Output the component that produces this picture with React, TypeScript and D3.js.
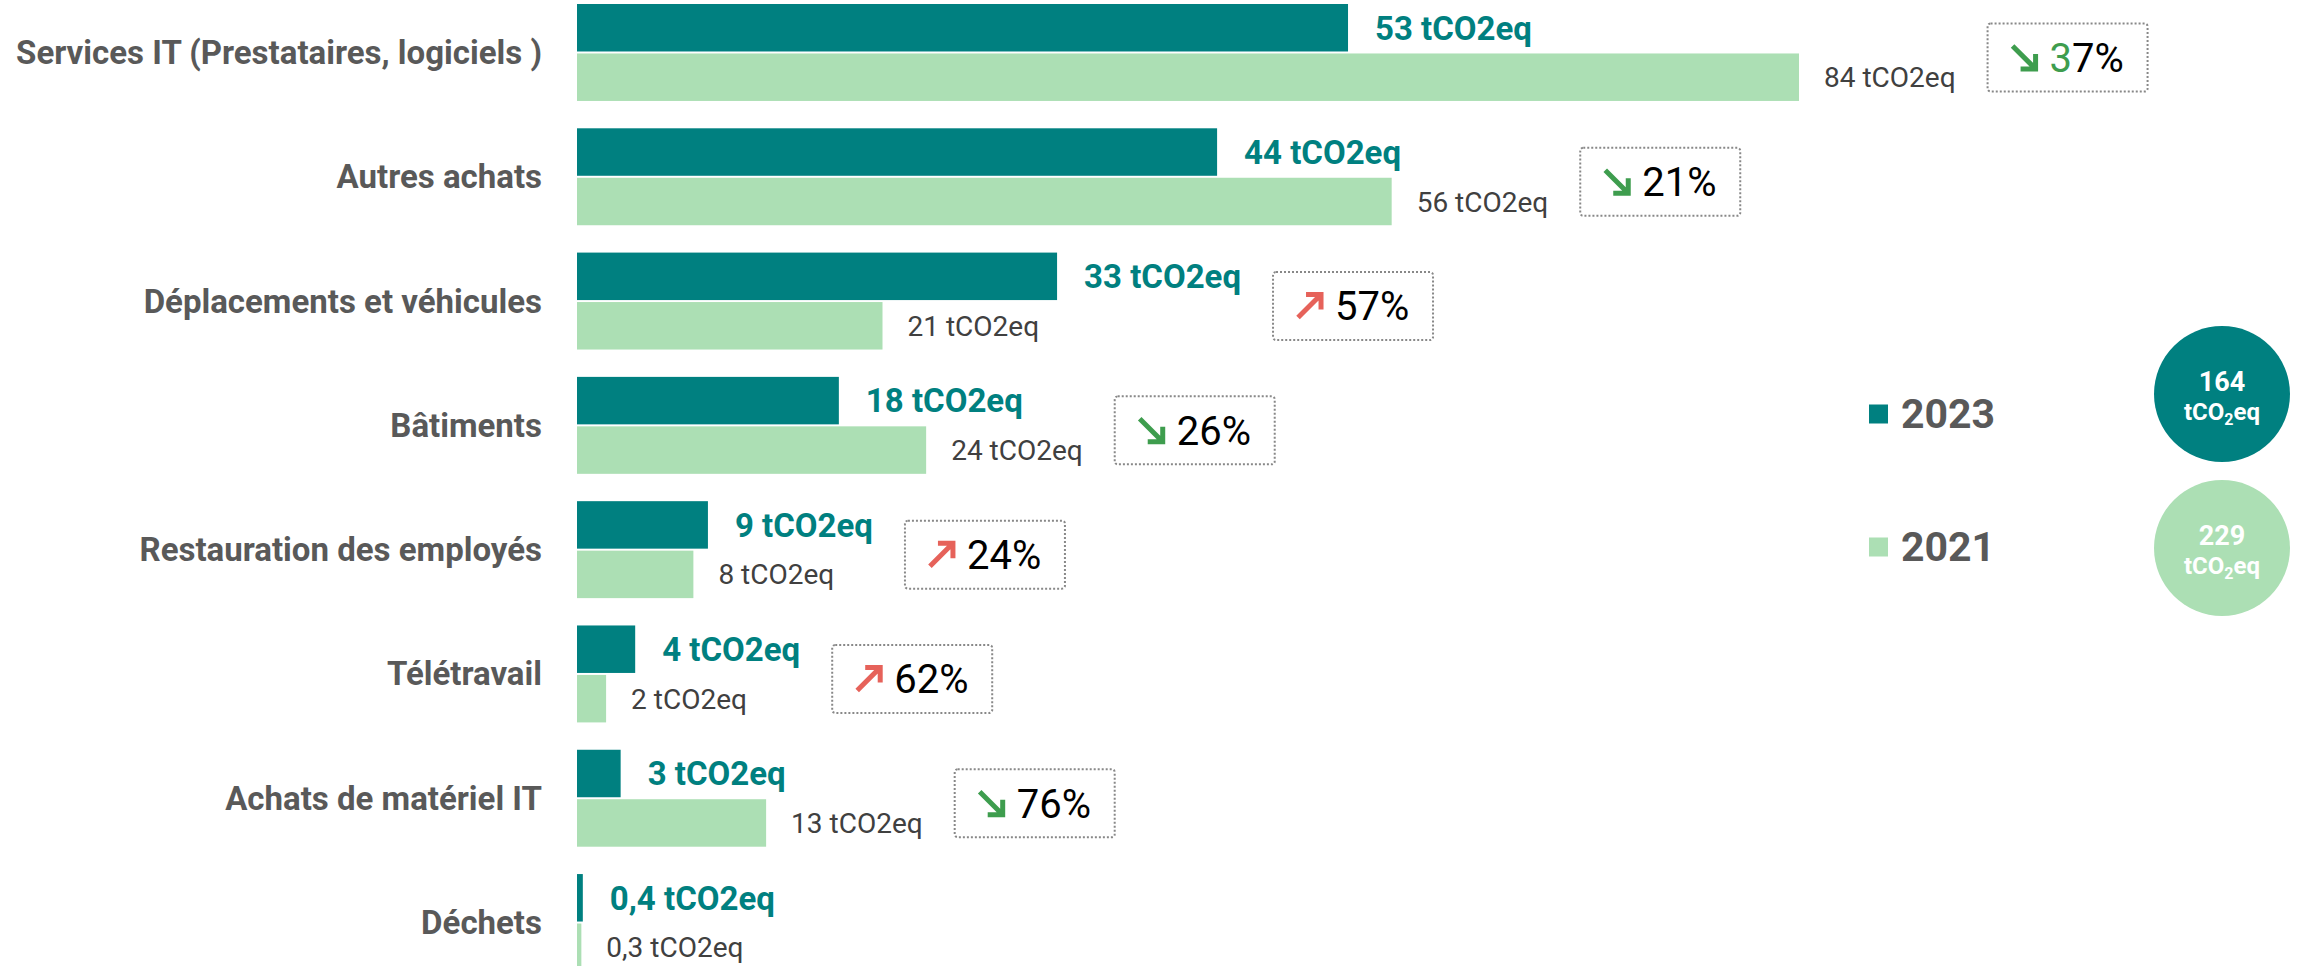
import React, { useRef, useEffect } from 'react';
import * as d3 from 'd3';

// Emissions par poste, 2023 vs 2021 (tCO2eq)
const categories = [
  'Services IT (Prestataires, logiciels )',
  'Autres achats',
  'Déplacements et véhicules',
  'Bâtiments',
  'Restauration des employés',
  'Télétravail',
  'Achats de matériel IT',
  'Déchets',
];
const values2023 = [53, 44, 33, 18, 9, 4, 3, 0.4];
const values2021 = [84, 56, 21, 24, 8, 2, 13, 0.3];
const changes = [-37, -21, 57, -26, 24, 62, -76, null];
const years = ['2023', '2021'];
const totals = [164, 229];

const TEAL = '#008080';
const LIGHT = '#acdfb4';
const GREEN = '#3e9d4e';
const RED = '#e6625a';

const fmt = (v: number) => String(v).replace('.', ',') + ' tCO2eq';

export default function App() {
  const svgRef = useRef<SVGSVGElement>(null);

  useEffect(() => {
    const svg = d3.select(svgRef.current);
    svg.selectAll('*').remove();

    const rows = categories.map((c, i) => ({
      cat: c,
      v23: values2023[i],
      v21: values2021[i],
      change: changes[i],
      i,
    }));

    const x = d3.scaleLinear().domain([0, 84]).range([577, 1799]);
    const y = d3.scaleBand().domain(categories).range([4, 971]).paddingInner(0.22).paddingOuter(0);
    const ySub = d3.scaleBand().domain(years).range([0, y.bandwidth()]).paddingInner(0.04);
    const color = d3.scaleOrdinal<string, string>().domain(years).range([TEAL, LIGHT]);
    const bh = ySub.bandwidth();

    // category labels
    svg.append('g')
      .selectAll('text')
      .data(rows)
      .enter().append('text')
      .attr('x', 542)
      .attr('y', d => (y(d.cat) as number) + y.bandwidth() / 2)
      .attr('dy', '0.35em')
      .attr('text-anchor', 'end')
      .style('font-size', '33px')
      .style('font-weight', 'bold')
      .attr('fill', '#595959')
      .text(d => d.cat);

    const g = svg.append('g')
      .selectAll('g')
      .data(rows)
      .enter().append('g')
      .attr('transform', d => `translate(0,${y(d.cat)})`);

    // bars
    g.append('rect')
      .attr('x', x(0))
      .attr('y', ySub('2023') as number)
      .attr('width', d => x(d.v23) - x(0))
      .attr('height', bh)
      .attr('fill', color('2023'));

    g.append('rect')
      .attr('x', x(0))
      .attr('y', ySub('2021') as number)
      .attr('width', d => x(d.v21) - x(0))
      .attr('height', bh)
      .attr('fill', color('2021'));

    // value labels
    const l23 = g.append('text')
      .attr('x', d => x(d.v23) + 27)
      .attr('y', (ySub('2023') as number) + bh / 2)
      .attr('dy', '0.36em')
      .style('font-size', '33px')
      .style('font-weight', 'bold')
      .attr('fill', TEAL)
      .text(d => fmt(d.v23));

    const l21 = g.append('text')
      .attr('x', d => x(d.v21) + 25)
      .attr('y', (ySub('2021') as number) + bh / 2)
      .attr('dy', '0.36em')
      .style('font-size', '28px')
      .attr('fill', '#404040')
      .text(d => fmt(d.v21));

    const ends: number[] = [];
    l23.each(function (d) {
      ends[d.i] = x(d.v23) + 27 + (this as SVGTextElement).getComputedTextLength();
    });
    l21.each(function (d) {
      ends[d.i] = Math.max(ends[d.i], x(d.v21) + 25 + (this as SVGTextElement).getComputedTextLength());
    });

    // change boxes
    const boxW = 160;
    const boxH = 68;
    const box = g.filter(d => d.change !== null)
      .append('g')
      .attr('transform', d => `translate(${ends[d.i] + 32},${y.bandwidth() / 2 + 5 - boxH / 2})`);

    box.append('rect')
      .attr('width', boxW)
      .attr('height', boxH)
      .attr('rx', 3)
      .attr('fill', 'none')
      .attr('stroke', '#888')
      .attr('stroke-width', 2)
      .attr('stroke-dasharray', '2,2');

    const s = 23;
    box.append('path')
      .attr('d', d => {
        const ax = 25;
        const ay = boxH / 2 - s / 2;
        return (d.change as number) < 0
          ? `M${ax},${ay}L${ax + s},${ay + s}M${ax + s},${ay + s - 15}L${ax + s},${ay + s}L${ax + s - 15},${ay + s}`
          : `M${ax},${ay + s}L${ax + s},${ay}M${ax + s - 15},${ay}L${ax + s},${ay}L${ax + s},${ay + 15}`;
      })
      .attr('fill', 'none')
      .attr('stroke', d => ((d.change as number) < 0 ? GREEN : RED))
      .attr('stroke-width', 5);

    const pct = box.append('text')
      .attr('x', 62)
      .attr('y', boxH / 2)
      .attr('dy', '0.36em')
      .style('font-size', '40px')
      .attr('fill', '#000');
    pct.each(function (d) {
      const t = d3.select(this);
      const str = `${Math.abs(d.change as number)}%`;
      if (d.i === 0) {
        t.append('tspan').attr('fill', GREEN).text(str.slice(0, 1));
        t.append('tspan').text(str.slice(1));
      } else {
        t.text(str);
      }
    });

    // legend
    const legendY = [414, 547];
    years.forEach((yr, k) => {
      svg.append('rect')
        .attr('x', 1869)
        .attr('y', legendY[k] - 9.5)
        .attr('width', 19)
        .attr('height', 19)
        .attr('fill', color(yr));
      svg.append('text')
        .attr('x', 1901)
        .attr('y', legendY[k] + 14)
        .style('font-size', '41px')
        .style('font-weight', 'bold')
        .attr('fill', '#595959')
        .text(yr);
    });

    // totals
    const circleY = [394, 548];
    years.forEach((yr, k) => {
      svg.append('circle')
        .attr('cx', 2222)
        .attr('cy', circleY[k])
        .attr('r', 68)
        .attr('fill', color(yr));
      svg.append('text')
        .attr('x', 2222)
        .attr('y', circleY[k] - 3)
        .attr('text-anchor', 'middle')
        .style('font-size', '27px')
        .style('font-weight', 'bold')
        .attr('fill', '#fff')
        .text(totals[k]);
      const u = svg.append('text')
        .attr('x', 2222)
        .attr('y', circleY[k] + 26)
        .attr('text-anchor', 'middle')
        .style('font-size', '24px')
        .style('font-weight', 'bold')
        .attr('fill', '#fff');
      u.append('tspan').text('tCO');
      u.append('tspan').attr('dy', 5).style('font-size', '16px').text('2');
      u.append('tspan').attr('dy', -5).text('eq');
    });
  }, []);

  return (
    <svg
      ref={svgRef}
      width={2308}
      height={966}
      style={{ position: 'absolute', left: 0, top: 0, fontFamily: 'Roboto, sans-serif', background: '#fff' }}
    />
  );
}
